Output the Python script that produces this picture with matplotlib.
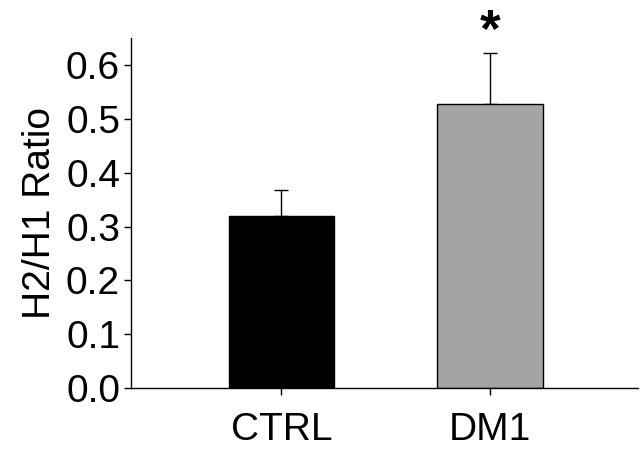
import matplotlib
matplotlib.use('Agg')
import matplotlib.pyplot as plt

# data
groups = ['CTRL', 'DM1']
ratio = [0.320, 0.527]
sem = [0.048, 0.096]
bar_colors = ['#000000', '#a4a4a4']
yticks = [0.0, 0.1, 0.2, 0.3, 0.4, 0.5, 0.6]

plt.rcParams['font.family'] = ['Liberation Sans', 'DejaVu Sans']

fig = plt.figure(figsize=(6.4, 4.5), dpi=100)
ax = fig.add_axes([0.205, 0.138, 0.792, 0.777])

x = range(len(groups))
ax.bar(x, ratio, width=0.507, color=bar_colors, edgecolor='black', linewidth=1.0, zorder=2)
ax.errorbar(x, ratio, yerr=[[0, 0], sem], fmt='none', ecolor='black',
            elinewidth=1.0, capsize=5, capthick=1.0, zorder=1)

# significance mark above DM1
ax.text(1, 0.66, '*', ha='center', va='center', fontsize=38, fontweight='bold', clip_on=False)

ax.set_xlim(-0.72, 1.71)
ax.set_ylim(0, 0.65)
ax.set_yticks(yticks)
ax.set_yticklabels(['%.1f' % t for t in yticks])
ax.set_xticks(list(x))
ax.set_xticklabels(groups)
ax.tick_params(axis='both', direction='out', length=5, width=1.0, labelsize=28)
ax.tick_params(axis='y', pad=3)
ax.tick_params(axis='x', pad=12)
ax.set_ylabel('H2/H1 Ratio', fontsize=28, labelpad=6)

ax.spines['top'].set_visible(False)
ax.spines['right'].set_visible(False)
ax.spines['left'].set_linewidth(1.0)
ax.spines['bottom'].set_linewidth(1.0)

fig.savefig('out.png', dpi=100)
